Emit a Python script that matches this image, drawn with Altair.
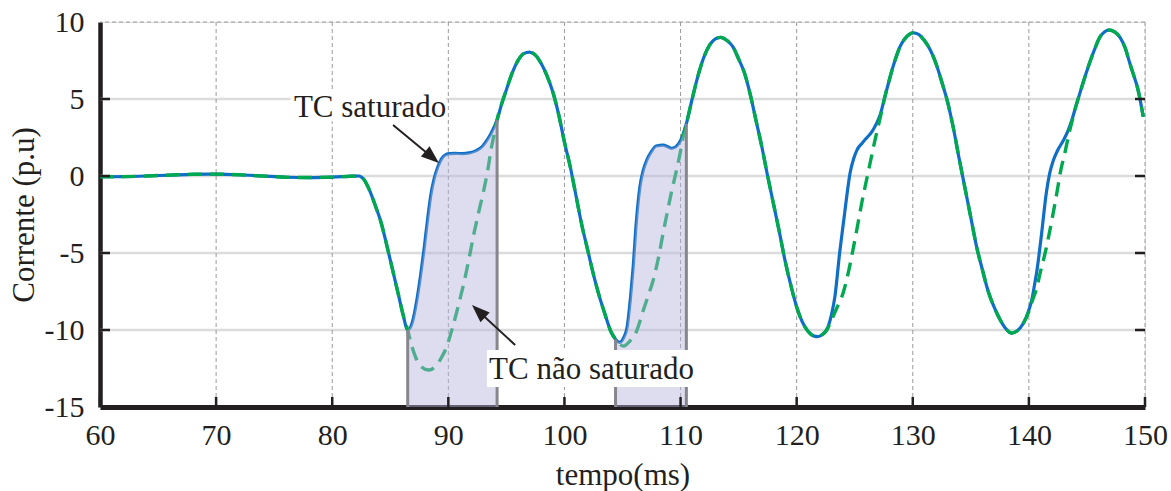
import altair as alt
import pandas as pd

# ---- data ----
t_blue = [60, 62, 64, 66, 68, 70, 72, 74, 76, 78, 80, 81.5, 82.3, 82.7, 83.2, 83.7, 84.2, 84.7, 85.2, 85.7, 86.1, 86.5,
          86.9, 87.3, 87.6, 87.9, 88.2, 88.5, 88.8, 89.1, 89.4, 89.7, 90.1, 90.6, 91.2, 91.8, 92.4, 92.9, 93.3, 93.7, 94.2,
          94.6, 95.0, 95.5, 96.0, 96.5, 97.0, 97.5, 98.0, 98.5, 99.0, 99.5, 100.0, 100.5, 101.0, 101.5, 102.0, 102.5,
          103.0, 103.5, 104.0, 104.4, 104.75, 105.1, 105.4, 105.7, 105.9, 106.2, 106.5, 106.8, 107.1, 107.5, 107.9,
          108.5, 108.9, 109.2, 109.6, 110.0, 110.5, 111.0, 111.5, 112.0, 112.5, 113.0, 113.45, 114.0, 114.5, 115.0,
          115.5, 116.0, 116.5, 117.0, 117.5, 118.0, 118.5, 119.0, 119.5, 120.0, 120.5, 121.0, 121.5, 121.8, 122.2,
          122.7, 123.0, 123.3, 123.7, 124.0, 124.2, 124.6, 124.9, 125.2, 125.6, 126.0, 126.5, 126.9, 127.2, 127.6,
          128.0, 128.3, 128.6, 128.9, 129.3, 129.7, 130.05, 130.5, 131.0, 131.5, 132.0, 132.5, 133.0, 133.5, 134.0,
          134.5, 135.0, 135.5, 136.0, 136.5, 137.0, 137.5, 138.0, 138.5, 139.0, 139.5, 140.0, 140.25, 140.5, 140.7,
          141.1, 141.5, 141.8, 142.1, 142.5, 143.0, 143.4, 143.7, 144.0, 144.4, 144.9, 145.3, 145.7, 146.1, 146.5,
          146.9, 147.4, 147.85, 148.3, 148.7, 149.0, 149.4, 149.85]
i_blue = [-0.05, -0.04, 0.0, 0.06, 0.11, 0.12, 0.08, 0.0, -0.08, -0.1, -0.07, -0.02, 0.0, -0.2, -0.9, -1.9, -3.0, -4.5,
          -6.1, -7.7, -9.0, -10.0,
          -9.5, -8.0, -6.5, -4.8, -2.9, -1.2, -0.1, 0.6, 1.1, 1.35, 1.45, 1.47, 1.45, 1.5, 1.65, 1.9, 2.3, 2.8, 3.65,
          4.7, 5.6, 6.7, 7.5, 7.95, 8.05, 7.85, 7.3, 6.5, 5.45, 4.0, 2.2, 0.6, -1.3, -3.2, -4.8, -6.4,
          -7.8, -9.0, -10.1, -10.6, -10.8, -10.5, -9.8, -7.8, -6.1, -2.9, -0.7, 0.4, 1.05, 1.6, 1.95,
          2.0, 1.9, 1.8, 1.9, 2.3, 3.4, 5.0, 6.5, 7.7, 8.5, 8.9, 9.0, 8.8, 8.4, 7.6,
          6.7, 5.3, 3.6, 1.9, 0.0, -1.8, -3.6, -5.5, -7.1, -8.5, -9.5, -10.1, -10.4, -10.43, -10.3,
          -9.8, -9.0, -7.8, -5.0, -3.2, -2.0, 0.2, 1.1, 1.7, 2.1, 2.45, 2.9, 3.45, 4.0, 5.15,
          6.3, 7.1, 7.8, 8.4, 8.9, 9.2, 9.3, 9.2, 8.8, 8.2, 7.3, 6.1, 4.8, 3.1, 1.1,
          -0.8, -2.7, -4.6, -6.1, -7.5, -8.5, -9.3, -9.9, -10.2, -10.05, -9.6, -8.7, -8.05, -7.0, -6.1,
          -3.7, -1.1, 0.2, 1.0, 1.7, 2.35, 3.0, 3.64, 4.4, 5.4, 6.6, 7.5, 8.3, 9.0, 9.35,
          9.48, 9.35, 9.0, 8.3, 7.3, 6.6, 5.6, 3.85]

# green (TC não saturado) follows the blue curve except in these stretches
gA_t = [86.5, 86.8, 87.2, 87.7, 88.3, 88.9, 89.4, 89.85, 90.3, 90.7, 91.0, 91.4, 91.8, 92.15, 92.6, 93.0, 93.4, 93.7, 94.0, 94.2]
gA_y = [-10.0, -10.9, -11.8, -12.4, -12.6, -12.35, -11.8, -11.1, -10.0, -8.9, -8.0, -6.75, -5.3, -3.94, -2.4, -1.1, 0.4, 1.8, 2.9, 3.65]
gB_t = [104.4, 104.75, 105.1, 105.6, 106.2, 106.8, 107.2, 107.65, 108.1, 108.5, 108.9, 109.2, 109.6, 109.96, 110.3, 110.5]
gB_y = [-10.6, -10.9, -11.05, -10.75, -10.1, -8.7, -7.8, -6.75, -5.3, -3.7, -2.2, -1.1, 0.2, 1.47, 2.8, 3.4]
gC_t = [122.2, 122.6, 123.0, 123.5, 124.0, 124.5, 124.9, 125.3, 125.6, 126.2, 126.75, 127.2, 127.6]
gC_y = [-10.3, -10.0, -9.35, -8.5, -7.6, -6.1, -4.6, -3.0, -1.77, 0.39, 2.34, 3.8, 5.15]
gD_t = [139.5, 140.0, 140.25, 140.7, 141.0, 141.4, 141.97, 142.5, 142.7, 143.1, 143.5, 143.8, 144.0]
gD_y = [-9.6, -8.8, -8.2, -7.2, -6.2, -5.0, -2.9, -0.7, 0.2, 1.5, 2.9, 3.8, 4.4]

# saturation windows (shaded)
sat_start = [86.5, 104.4]
sat_end = [94.2, 110.5]

x_ticks = [60, 70, 80, 90, 100, 110, 120, 130, 140, 150]
y_ticks = [-15, -10, -5, 0, 5, 10]
y_grid = [-10, -5, 0, 5]
x_grid = [70, 80, 90, 100, 110, 120, 130, 140, 150]

# annotations
ann_text = ["TC saturado", "TC não saturado"]
ann_t = [83.26, 102.33]
ann_y = [3.83, -13.2]
box_t1 = [76.4, 93.33]
box_t2 = [89.8, 111.5]
box_y1 = [5.45, -11.3]
box_y2 = [3.55, -13.7]
arrow_t1 = [85.24, 95.75]
arrow_y1 = [3.31, -10.97]
arrow_t2 = [88.6, 92.6]
arrow_y2 = [1.22, -8.78]
arrow_angle = [130, 313]

# ---- tables ----
blue = pd.DataFrame({"t": t_blue, "v": i_blue})
segs = [(gA_t, gA_y), (gB_t, gB_y), (gC_t, gC_y), (gD_t, gD_y)]
keep = [not any(s[0][0] <= tt <= s[0][-1] for s in segs) for tt in t_blue]
green = pd.concat([blue[keep]] + [pd.DataFrame({"t": s[0], "v": s[1]}) for s in segs]).sort_values("t")

patch = pd.concat([
    blue[(blue.t >= a) & (blue.t <= b)].assign(win=k) for k, (a, b) in enumerate(zip(sat_start, sat_end))
])
patch["base"] = -15
edges = pd.DataFrame({
    "t": sat_start + sat_end,
    "v": [blue.loc[blue.t == s, "v"].iloc[0] for s in sat_start + sat_end],
    "base": -15,
})

FONT = "Liberation Serif"
INK = "#231f20"

xs = alt.Scale(domain=[60, 150], nice=False, zero=False)
ys = alt.Scale(domain=[-15, 10], nice=False, zero=False)
xaxis = alt.Axis(values=x_ticks, grid=False, ticks=False, tickSize=0, domainWidth=5, domainColor=INK,
                 labelFont=FONT, labelFontSize=30, labelColor=INK, labelPadding=13, labelFlush=False,
                 labelOverlap=False, title="tempo(ms)", titleFont=FONT, titleFontSize=31,
                 titleFontWeight="normal", titleColor=INK, titlePadding=10)
yaxis = alt.Axis(values=y_ticks, grid=False, ticks=False, tickSize=0, domainWidth=4.5, domainColor=INK,
                 labelFont=FONT, labelFontSize=30, labelColor=INK, labelPadding=16, labelFlush=False,
                 labelOverlap=False, labelExpr="datum.value + ''", title="Corrente (p.u)", titleFont=FONT,
                 titleFontSize=31, titleFontWeight="normal", titleColor=INK, titlePadding=4)


def X(f="t"):
    return alt.X(f, type="quantitative", scale=xs, axis=xaxis, title="tempo(ms)")


def Y(f="v"):
    return alt.Y(f, type="quantitative", scale=ys, axis=yaxis, title="Corrente (p.u)")


hgrid = alt.Chart(pd.DataFrame({"v": y_grid})).mark_rule(color="#dcdcdc", strokeWidth=2.5).encode(y=Y())
vgrid = alt.Chart(pd.DataFrame({"t": x_grid})).mark_rule(color="#9a9a9a", strokeWidth=1, strokeDash=[4, 3]).encode(x=X())
topb = alt.Chart(pd.DataFrame({"v": [10]})).mark_rule(color="#9a9a9a", strokeWidth=1, strokeDash=[4, 3]).encode(y=Y())

bline = alt.Chart(blue).mark_line(color="#0f6fc6", strokeWidth=3.2, interpolate="monotone").encode(x=X(), y=Y())
gline = alt.Chart(green).mark_line(color="#00a850", strokeWidth=3.4, strokeDash=[14, 8],
                                   interpolate="monotone").encode(x=X(), y=Y())
area = alt.Chart(patch).mark_area(color="#b4b4dc", opacity=0.45, interpolate="monotone").encode(
    x=X(), y=Y(), y2="base", detail="win:N")
edge = alt.Chart(edges).mark_rule(color="#86868c", strokeWidth=3).encode(x=X(), y=Y(), y2="base")

btick = alt.Chart(pd.DataFrame({"t": x_ticks})).mark_rule(color=INK, strokeWidth=2.5).encode(
    x=X(), y=alt.value(385), y2=alt.value(375))
ltick = alt.Chart(pd.DataFrame({"v": y_grid})).mark_rule(color=INK, strokeWidth=2.5).encode(
    y=Y(), x=alt.value(0), x2=alt.value(10))
rtick = alt.Chart(pd.DataFrame({"v": y_grid})).mark_rule(color=INK, strokeWidth=2.5).encode(
    y=Y(), x=alt.value(1035), x2=alt.value(1045))

ann = pd.DataFrame({"txt": ann_text, "t": ann_t, "v": ann_y, "bt1": box_t1, "bt2": box_t2,
                    "bv1": box_y1, "bv2": box_y2, "at1": arrow_t1, "av1": arrow_y1,
                    "at2": arrow_t2, "av2": arrow_y2, "ang": arrow_angle})
boxes = alt.Chart(ann).mark_rect(color="white").encode(x=X("bt1"), x2="bt2", y=Y("bv1"), y2="bv2")
texts = alt.Chart(ann).mark_text(font=FONT, fontSize=31, color=INK, align="center",
                                 baseline="alphabetic").encode(x=X(), y=Y(), text="txt:N")
shafts = alt.Chart(ann).mark_rule(color=INK, strokeWidth=2).encode(x=X("at1"), x2="at2", y=Y("av1"), y2="av2")
heads = alt.Chart(ann).mark_point(shape="M0,-1L0.75,1L-0.75,1Z", size=320, filled=True, color=INK,
                                  opacity=1).encode(x=X("at2"), y=Y("av2"), angle=alt.Angle("ang:Q", scale=None))

chart = alt.layer(hgrid, vgrid, topb, bline, gline, area, edge, btick, ltick, rtick,
                  boxes, texts, shafts, heads).properties(
    width=1045, height=385,
    autosize=alt.AutoSizeParams(type="none"),
    padding={"left": 100, "top": 22, "right": 26, "bottom": 84},
).configure_view(strokeWidth=0).configure(background="white")

chart.save("out.html", embed_options={"renderer": "svg", "actions": False})
